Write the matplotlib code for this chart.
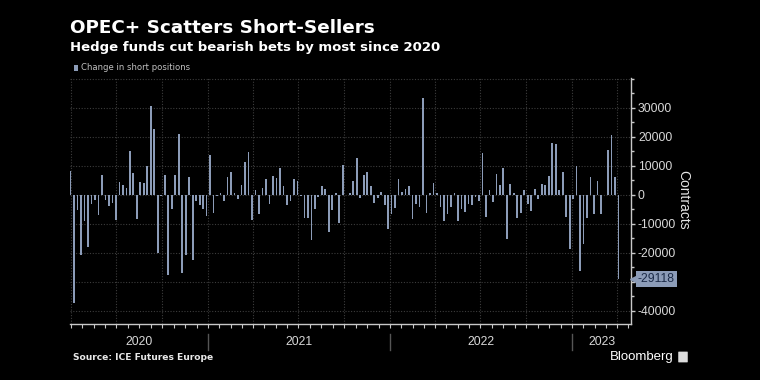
import matplotlib
matplotlib.use('Agg')
import matplotlib.pyplot as plt
import matplotlib.dates as mdates
import matplotlib.transforms as mtrans
from matplotlib.patches import FancyBboxPatch, Rectangle
import numpy as np
import pandas as pd

# ---- data (weekly change in hedge-fund short positions, contracts) ----
values = [
    8300, -37400, -5200, -20900, -9100, -18000, -3300, -2000, -6900, 6900,
    -1700, -3800, -2900, -8700, 4500, 3200, 2300, 15200, 7500, -8300,
    4500, 4100, 10000, 30700, 22600, -20100, -500,
    6700, -27800, -4900, 6900, 20800, -27000, -20700, 6000, -22500, -2300,
    -3700, -4900, -7500, 13800, -6400, -500, 500, -2100, 6200, 7700,
    500, -1400, 3200, 11100, 14800, -8700,
    1700, -6700, 2200, 5300, -3300, 6300, 5700, 9200, 2800, -3700,
    -2300, 5400, 4600, -500, -7900, -8000, -15500, -4900, -800, 2900,
    2100, -12900, -5300, 700, -9900, 10200, -300, 700,
    4600, 12500, -1100, 6700, 7800, 2900, -2900, -1100, 800, -3700,
    -11700, -6800, -4500, 5300, 800, 1800, 3000, -8500, -3100, -4300,
    33400, -6200, 700, 4000, 700, -4100, -9100,
    -6700, -4100, 700, -9000, -4800, -5900, -3400, -3700, -700, -2300,
    14500, -7600, 1600, -2500, 7000, 3300, 9100, -15400, 3800, 600,
    -8000, -6200, 1700, -3100, -5500, 1800, -1600,
    3800, 3200, 6300, 17800, 17600, 1700, 7700, -7700, -18900, -1600,
    10000, -26400, -17000, -8000, 6100, -6700, 4600, -6700, 0, 15400,
    20500, 6000, -29118,
]
first_week = '2020-03-31'
dates = pd.date_range(first_week, periods=len(values), freq='7D')
last_value = values[-1]

y_ticks = [30000, 20000, 10000, 0, -10000, -20000, -30000, -40000]
y_tick_labels = ['30000', '20000', '10000', '0', '-10000', '-20000', '', '-40000']
year_labels = ['2020', '2021', '2022', '2023']

title = 'OPEC+ Scatters Short-Sellers'
subtitle = 'Hedge funds cut bearish bets by most since 2020'
legend_label = 'Change in short positions'
source = 'Source: ICE Futures Europe'

BAR = '#8c9cb8'
GRID = '#3c3c3c'
AX = '#c8c8c8'
TXT = '#d8d8d8'
NARROW = ['Liberation Sans', 'DejaVu Sans']

W, H = 760, 380
fig = plt.figure(figsize=(7.6, 3.8), dpi=100, facecolor='black')
L, R, T, B = 70, 631, 78, 324
ax = fig.add_axes([L / W, 1 - B / H, (R - L) / W, (B - T) / H])
ax.set_facecolor('black')

xmin, xmax = pd.Timestamp('2020-03-30'), pd.Timestamp('2023-04-29')
ax.set_xlim(xmin, xmax)
ax.set_ylim(-44600, 40200)

# grid
for yv in range(-40000, 40001, 10000):
    ax.axhline(yv, color=GRID, lw=0.8, ls=(0, (1, 1.5)), zorder=0)
quarters = pd.date_range('2020-04-01', '2023-04-01', freq='QS')
for q in quarters:
    ax.axvline(q, color=GRID, lw=0.8, ls=(0, (1, 1.5)), zorder=0)

ax.bar(dates, values, width=3.4, color=BAR, zorder=2)

# spines
for s in ['left', 'top']:
    ax.spines[s].set_visible(False)
ax.spines['right'].set_color(AX)
ax.spines['bottom'].set_color(AX)
ax.spines['right'].set_linewidth(1.0)
ax.spines['bottom'].set_linewidth(1.0)

# y axis on right
ax.yaxis.tick_right()
ax.set_yticks(y_ticks)
ax.set_yticklabels(y_tick_labels, fontfamily=NARROW)
ax.set_yticks(np.arange(-40000, 40001, 5000), minor=True)
ax.tick_params(axis='y', which='major', colors=AX, labelcolor=TXT, labelsize=8.8,
               length=3, width=1, pad=2)
ax.tick_params(axis='y', which='minor', colors=AX, length=2, width=1)

# x axis ticks: quarter lines split into 4
qt = pd.date_range('2020-01-01', '2023-07-01', freq='QS')
qn = mdates.date2num(qt)
minor_x = []
for a, b in zip(qn[:-1], qn[1:]):
    minor_x.extend(np.linspace(a, b, 5)[:-1])
minor_x = [m for m in minor_x if mdates.date2num(xmin) <= m <= mdates.date2num(xmax)]
ax.set_xticks(minor_x)
ax.set_xticklabels([])
ax.tick_params(axis='x', which='major', colors=AX, length=3, width=0.8)
ax.tick_params(axis='x', which='minor', length=0)

# year separators and labels
bt = mtrans.blended_transform_factory(ax.transData, fig.transFigure)
years = [2020, 2021, 2022, 2023]
bounds = [xmin] + [pd.Timestamp(f'{y}-01-01') for y in years[1:]] + [xmax]
for i, lab in enumerate(year_labels):
    a, b = bounds[i], bounds[i + 1]
    mid = a + (b - a) / 2
    ax.text(mid, 1 - 342 / H, lab, transform=bt, ha='center', va='center',
            fontsize=8.8, color=TXT, clip_on=False, family=NARROW)
for d in bounds[1:-1]:
    ax.plot([d, d], [1 - 334 / H, 1 - 350 / H], transform=bt, color='#555555',
            lw=1, clip_on=False)

# last value callout
yt = mtrans.blended_transform_factory(ax.transAxes, ax.transData)
ax.text(1.012, last_value, f'{last_value}', transform=yt, ha='left', va='center',
        fontsize=8.8, color='#1c2b48', zorder=5, clip_on=False, family=NARROW,
        bbox=dict(boxstyle='square,pad=0.15', fc=BAR, ec='none'))
ax.plot([1.006], [last_value], marker='<', ms=5.5, color=BAR, transform=yt,
        clip_on=False, zorder=4)

# right label
fig.text(683 / W, 1 - 200 / H, 'Contracts', rotation=270, ha='center', va='center',
         fontsize=10, color='#e6e6e6', family=NARROW)

# titles
fig.text(70 / W, 1 - 28 / H, title, ha='left', va='center', fontsize=13.2,
         fontweight='bold', color='white')
fig.text(70 / W, 1 - 48 / H, subtitle, ha='left', va='center', fontsize=9.5,
         fontweight='bold', color='white')

# legend
fig.patches.append(Rectangle((74 / W, 1 - 71 / H), 4 / W, 6 / H, transform=fig.transFigure,
                             fc=BAR, ec='none'))
fig.text(81 / W, 1 - 68 / H, legend_label, ha='left', va='center', fontsize=6.1,
         color='#c0c0c0')

# footer
fig.text(73 / W, 1 - 357 / H, source, ha='left', va='center', fontsize=6.6,
         fontweight='bold', color='#e8e8e8')
fig.text(674 / W, 1 - 357 / H, 'Bloomberg', ha='right', va='center', fontsize=9.5,
         color='white', family=NARROW)
fig.patches.append(FancyBboxPatch((679 / W, 1 - 362 / H), 8 / W, 10 / H,
                                  boxstyle='round,pad=0.001', transform=fig.transFigure,
                                  fc='#dddddd', ec='none'))

fig.savefig('out.png', dpi=100, facecolor='black')
